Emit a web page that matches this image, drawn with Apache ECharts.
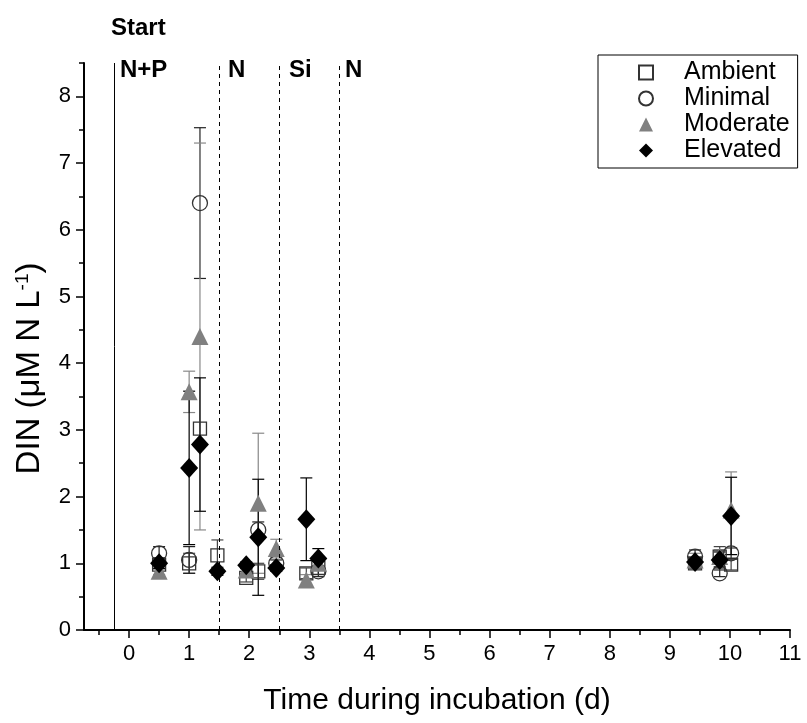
<!DOCTYPE html>
<html>
<head>
<meta charset="utf-8">
<script src="https://cdn.jsdelivr.net/npm/echarts@6/dist/echarts.min.js"></script>
<style>
    html, body { margin: 0; padding: 0; background: #fff; }
    #main { width: 807px; height: 723px; }
</style>
</head>
<body>
<div id="main"></div>
<script>
// data: time (d), mean DIN, error
var ambientX = [0.5, 1.0, 1.18, 1.47, 1.95, 2.15, 2.95, 3.15, 9.42, 9.83, 10.02];
var ambientY = [0.98, 1.0, 3.02, 1.12, 0.78, 0.88, 0.85, 0.93, 1.0, 1.1, 0.98];
var ambientE = [0.06, 0.15, 0, 0.23, 0.06, 0.12, 0.08, 0.1, 0.08, 0.15, 0.08];

var minimalX = [0.5, 1.0, 1.18, 2.15, 2.45, 3.15, 9.42, 9.83, 10.02];
var minimalY = [1.15, 1.05, 6.4, 1.5, 1.0, 0.88, 1.1, 0.85, 1.15];
var minimalE = [0.1, 0.2, 1.13, 0.12, 0.05, 0.08, 0.1, 0.05, 0.08];

var moderateX = [0.5, 1.0, 1.18, 1.95, 2.15, 2.45, 2.95, 3.15, 9.42, 9.83, 10.02];
var moderateY = [0.88, 3.57, 4.4, 0.9, 1.9, 1.22, 0.75, 1.0, 1.05, 1.1, 1.8];
var moderateE = [0.05, 0.31, 2.9, 0.05, 1.05, 0.14, 0.08, 0.05, 0.1, 0.1, 0.57];

var elevatedX = [0.5, 1.0, 1.18, 1.47, 1.95, 2.15, 2.45, 2.95, 3.15, 9.42, 9.83, 10.02];
var elevatedY = [1.0, 2.43, 2.78, 0.88, 0.97, 1.39, 0.93, 1.66, 1.07, 1.02, 1.05, 1.71];
var elevatedE = [0.08, 1.15, 1.0, 0.06, 0.05, 0.87, 0.05, 0.62, 0.15, 0.06, 0.12, 0.58];

// tick positions
var xMajor = [0, 1, 2, 3, 4, 5, 6, 7, 8, 9, 10, 11];
var xMinor = [-0.5, 0.5, 1.5, 2.5, 3.5, 4.5, 5.5, 6.5, 7.5, 8.5, 9.5, 10.5];
var yMajor = [0, 1, 2, 3, 4, 5, 6, 7, 8];
var yMinor = [0.5, 1.5, 2.5, 3.5, 4.5, 5.5, 6.5, 7.5, 8.5];

// treatment lines
var startLine = -0.25;
var addLines = [1.5, 2.5, 3.5];

var font = 'Arial, "Liberation Sans", sans-serif';

function pts(xs, ys, es) {
    var out = [];
    for (var i = 0; i < xs.length; i++) {
        out.push([xs[i], ys[i], es[i]]);
    }
    return out;
}

// error bar drawing
function errBar(color) {
    return function (params, api) {
        var x = api.value(0), y = api.value(1), e = api.value(2);
        if (!e) return null;
        var top = api.coord([x, y + e]);
        var bot = api.coord([x, y - e]);
        var w = 6;
        var st = { stroke: color, lineWidth: 1.2 };
        return {
            type: 'group',
            children: [
                { type: 'line', shape: { x1: top[0], y1: top[1], x2: bot[0], y2: bot[1] }, style: st },
                { type: 'line', shape: { x1: top[0] - w, y1: top[1], x2: top[0] + w, y2: top[1] }, style: st },
                { type: 'line', shape: { x1: bot[0] - w, y1: bot[1], x2: bot[0] + w, y2: bot[1] }, style: st }
            ]
        };
    };
}

function errSeries(name, data, color) {
    return {
        name: name,
        type: 'custom',
        renderItem: errBar(color),
        data: data,
        encode: { x: 0, y: 1 },
        silent: true
    };
}

var dom = document.getElementById("main");
var myChart = echarts.init(dom);

var axisLine = { show: true, onZero: false, lineStyle: { color: '#000', width: 2 } };

var markLines = [{ xAxis: startLine, lineStyle: { type: 'solid' } }];
addLines.forEach(function (v) {
    markLines.push({ xAxis: v, lineStyle: { type: [4, 4] } });
});

option = {
    backgroundColor: '#fff',
    animation: false,
    textStyle: { fontFamily: font },
    grid: { left: 84, right: 17, top: 63, bottom: 93 },
    legend: {
        orient: 'vertical',
        left: 598,
        top: 55,
        padding: [5, 8, 5, 40],
        itemGap: 1,
        itemWidth: 14,
        itemHeight: 14,
        borderColor: '#000',
        borderWidth: 1,
        textStyle: { fontSize: 25, color: '#000', fontFamily: font, padding: [0, 0, 0, 26] },
        data: ['Ambient', 'Minimal', 'Moderate', 'Elevated']
    },
    xAxis: [{
        type: 'value',
        min: -0.75,
        max: 11,
        name: 'Time during incubation (d)',
        nameLocation: 'middle',
        nameGap: 56,
        nameTextStyle: { fontSize: 30, color: '#000', fontFamily: font },
        axisLine: axisLine,
        axisTick: { show: true, customValues: xMajor, length: 8, lineStyle: { color: '#000', width: 1.5 } },
        axisLabel: { customValues: xMajor, fontSize: 22, color: '#000', margin: 13, fontFamily: font },
        splitLine: { show: false }
    }, {
        type: 'value',
        min: -0.75,
        max: 11,
        position: 'bottom',
        axisLine: { show: false, onZero: false },
        axisTick: { show: true, customValues: xMinor, length: 5, lineStyle: { color: '#000', width: 1.5 } },
        axisLabel: { show: false },
        splitLine: { show: false }
    }],
    yAxis: [{
        type: 'value',
        min: 0,
        max: 8.5,
        name: 'DIN (μM N L{sup|-1})',
        nameLocation: 'middle',
        nameGap: 37,
        nameRotate: 90,
        nameTextStyle: {
            fontSize: 33, color: '#000', fontFamily: font,
            padding: [0, 44, 0, 0],
            rich: { sup: { fontSize: 19, color: '#000', verticalAlign: 'top', padding: [0, 0, 15, 0], fontFamily: font } }
        },
        axisLine: axisLine,
        axisTick: { show: true, customValues: yMajor, length: 8, lineStyle: { color: '#000', width: 1.5 } },
        axisLabel: { customValues: yMajor, fontSize: 22, color: '#000', margin: 13, fontFamily: font },
        splitLine: { show: false }
    }, {
        type: 'value',
        min: 0,
        max: 8.5,
        position: 'left',
        axisLine: { show: false, onZero: false },
        axisTick: { show: true, customValues: yMinor, length: 5, lineStyle: { color: '#000', width: 1.5 } },
        axisLabel: { show: false },
        splitLine: { show: false }
    }],
    graphic: [
        { type: 'text', left: 111, top: 16, style: { text: 'Start', font: 'bold 24px ' + font, fill: '#000' } },
        { type: 'text', left: 120, top: 58, style: { text: 'N+P', font: 'bold 24px ' + font, fill: '#000' } },
        { type: 'text', left: 228, top: 58, style: { text: 'N', font: 'bold 24px ' + font, fill: '#000' } },
        { type: 'text', left: 289, top: 58, style: { text: 'Si', font: 'bold 24px ' + font, fill: '#000' } },
        { type: 'text', left: 345, top: 58, style: { text: 'N', font: 'bold 24px ' + font, fill: '#000' } }
    ],
    series: [{
        name: 'lines',
        type: 'scatter',
        data: [],
        markLine: {
            silent: true,
            symbol: ['none', 'none'],
            label: { show: false },
            lineStyle: { color: '#000', width: 1 },
            data: markLines
        }
    },
        errSeries('ambientErr', pts(ambientX, ambientY, ambientE), '#444'),
    {
        name: 'Ambient',
        type: 'scatter',
        symbol: 'rect',
        symbolSize: 13,
        itemStyle: { color: 'transparent', borderColor: '#333', borderWidth: 1.3, opacity: 1 },
        data: pts(ambientX, ambientY, ambientE)
    },
        errSeries('minimalErr', pts(minimalX, minimalY, minimalE), '#222'),
    {
        name: 'Minimal',
        type: 'scatter',
        symbol: 'circle',
        symbolSize: 15,
        itemStyle: { color: 'transparent', borderColor: '#333', borderWidth: 1.3, opacity: 1 },
        data: pts(minimalX, minimalY, minimalE)
    },
        errSeries('moderateErr', pts(moderateX, moderateY, moderateE), '#888'),
    {
        name: 'Moderate',
        type: 'scatter',
        symbol: 'triangle',
        symbolSize: 17,
        itemStyle: { color: '#808080', opacity: 1 },
        data: pts(moderateX, moderateY, moderateE)
    },
        errSeries('elevatedErr', pts(elevatedX, elevatedY, elevatedE), '#000'),
    {
        name: 'Elevated',
        type: 'scatter',
        symbol: 'diamond',
        symbolSize: [18, 20],
        itemStyle: { color: '#000', opacity: 1 },
        data: pts(elevatedX, elevatedY, elevatedE)
    }]
};
myChart.setOption(option, true);
window.onresize = myChart.resize;
</script>
</body>
</html>
